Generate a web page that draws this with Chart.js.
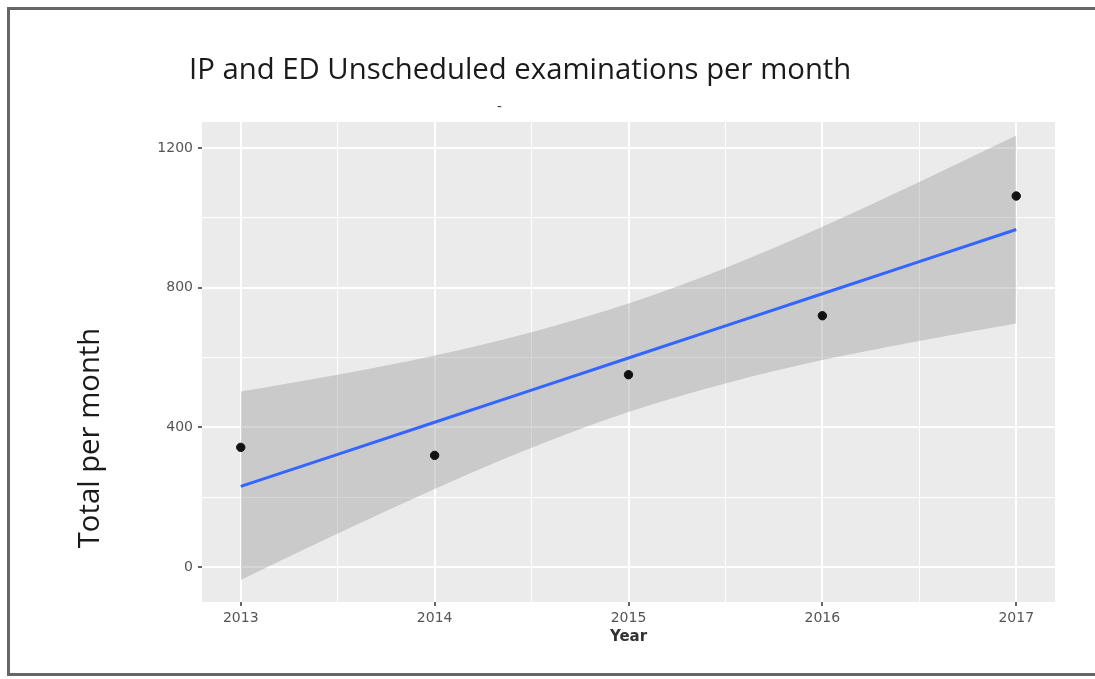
<!DOCTYPE html>
<html>
  <head>
    <title>IP and ED Unscheduled examinations per month</title>
    <style>
      body { margin: 0; background: #fff; overflow: hidden; width: 1095px; height: 679px; }
      #frame { position: absolute; left: 7px; top: 7px; width: 1110px; height: 663px; border: 3px solid #666; pointer-events: none; }
      #mainTitle { position: absolute; left: 189px; top: 48px; font-family: "Open Sans", sans-serif; font-size: 29.3px; color: #1a1a1a; white-space: nowrap; }
      #dash { position: absolute; left: 497px; top: 95px; font-family: "Open Sans", sans-serif; font-size: 15px; color: #333; }
      #yTitle { position: absolute; left: 88px; top: 438px; transform: translate(-50%, -50%) rotate(-90deg); font-family: "Open Sans", sans-serif; font-size: 29.3px; color: #1a1a1a; white-space: nowrap; }
      #chart { position: absolute; left: 0; top: 0; }
    </style>
  </head>
  <body>
    <script src="https://cdn.jsdelivr.net/npm/chart.js"></script>

    <canvas id="chart" width="1095" height="679"></canvas>
    <div id="frame"></div>
    <div id="mainTitle">IP and ED Unscheduled examinations per month</div>
    <div id="dash">-</div>
    <div id="yTitle">Total per month</div>

    <script>
      // observed totals per year
      const years = [2013, 2014, 2015, 2016, 2017];
      const totals = [343, 320, 551, 720, 1063];

      // linear fit and its confidence band (half-year steps)
      const bandYears = [2013, 2013.5, 2014, 2014.5, 2015, 2015.5, 2016, 2016.5, 2017];
      const fitValues = [231, 323, 415, 507, 599, 691, 783, 875, 967];
      const ciUpper = [503, 551, 606, 673, 755, 857, 975, 1103, 1236];
      const ciLower = [-37, 96, 224, 342, 444, 526, 593, 648, 698];

      // axis ticks
      const xTickYears = [2013, 2014, 2015, 2016, 2017];
      const yTickValues = [0, 400, 800, 1200];

      // major ticks plus ggplot-style minor gridlines halfway between them
      function withMinor(major) {
        const out = [];
        major.forEach((v, i) => {
          out.push({ value: v, major: true });
          if (i < major.length - 1) out.push({ value: (v + major[i + 1]) / 2, major: false });
        });
        return out;
      }

      const pts = (xs, ys) => xs.map((x, i) => ({ x: x, y: ys[i] }));

      // grey panel behind the plot
      const panelBackground = {
        id: 'panelBackground',
        beforeDraw(chart) {
          const a = chart.chartArea;
          const c = chart.ctx;
          c.save();
          c.fillStyle = '#EBEBEB';
          c.fillRect(a.left, a.top, a.right - a.left, a.bottom - a.top);
          c.restore();
        }
      };

      const isMajor = (ctx) => ctx.tick && ctx.tick.major;

      const gridOpts = {
        color: '#FFFFFF',
        lineWidth: (ctx) => isMajor(ctx) ? 2 : 1,
        drawTicks: true,
        tickLength: 4,
        tickWidth: 1.5,
        tickColor: (ctx) => isMajor(ctx) ? '#333333' : 'rgba(0,0,0,0)'
      };

      new Chart(document.getElementById('chart'), {
        type: 'scatter',
        data: {
          datasets: [
            {
              label: 'Total per month',
              data: pts(years, totals),
              backgroundColor: '#111111',
              borderColor: '#111111',
              pointRadius: 4.2,
              pointHoverRadius: 4.2
            },
            {
              label: 'Fit',
              data: pts(bandYears, fitValues),
              showLine: true,
              borderColor: '#3366FF',
              borderWidth: 3,
              pointRadius: 0,
              fill: false
            },
            {
              label: 'Upper',
              data: pts(bandYears, ciUpper),
              showLine: true,
              borderWidth: 0,
              borderColor: 'rgba(0,0,0,0)',
              backgroundColor: 'rgba(153,153,153,0.4)',
              pointRadius: 0,
              cubicInterpolationMode: 'monotone',
              fill: '+1'
            },
            {
              label: 'Lower',
              data: pts(bandYears, ciLower),
              showLine: true,
              borderWidth: 0,
              borderColor: 'rgba(0,0,0,0)',
              pointRadius: 0,
              cubicInterpolationMode: 'monotone',
              fill: false
            }
          ]
        },
        options: {
          responsive: false,
          animation: false,
          devicePixelRatio: 1,
          layout: { padding: { left: 0, top: 122, right: 40, bottom: 0 } },
          plugins: {
            legend: { display: false },
            tooltip: { enabled: false },
            title: { display: false }
          },
          scales: {
            x: {
              type: 'linear',
              min: 2012.8,
              max: 2017.2,
              afterBuildTicks: (scale) => { scale.ticks = withMinor(xTickYears); },
              afterFit: (scale) => { scale.height = 77; },
              grid: gridOpts,
              border: { display: false },
              ticks: {
                autoSkip: false,
                maxRotation: 0,
                padding: 4,
                color: '#555555',
                font: { family: 'DejaVu Sans', size: 14 },
                callback: function (value, index, ticks) { return ticks[index].major ? String(value) : ''; }
              },
              title: {
                display: true,
                text: 'Year',
                color: '#333333',
                font: { family: 'DejaVu Sans', size: 15, weight: 'bold', lineHeight: 1.2 },
                padding: { top: 0, bottom: 33 }
              }
            },
            y: {
              type: 'linear',
              min: -100,
              max: 1275,
              afterBuildTicks: (scale) => { scale.ticks = withMinor(yTickValues); },
              afterFit: (scale) => { scale.width = 202; },
              grid: gridOpts,
              border: { display: false },
              ticks: {
                autoSkip: false,
                padding: 5,
                color: '#555555',
                font: { family: 'DejaVu Sans', size: 14 },
                callback: function (value, index, ticks) { return ticks[index].major ? String(value) : ''; }
              }
            }
          }
        },
        plugins: [panelBackground]
      });
    </script>
  </body>
</html>
